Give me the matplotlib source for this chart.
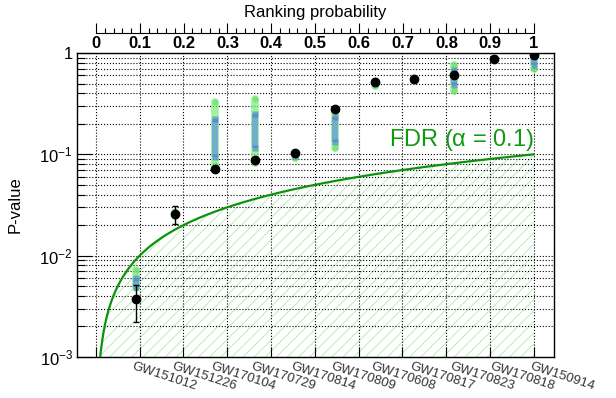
import numpy as np
import matplotlib
matplotlib.use("Agg")
import matplotlib.pyplot as plt
from matplotlib.ticker import NullFormatter, LogLocator

plt.rcParams['font.family'] = ['Liberation Sans', 'DejaVu Sans']
plt.rcParams['mathtext.fontset'] = 'custom'
plt.rcParams['mathtext.rm'] = 'Liberation Sans'
plt.rcParams['mathtext.it'] = 'Liberation Sans:italic'
plt.rcParams['mathtext.default'] = 'regular'
plt.rcParams['hatch.linewidth'] = 0.7

# events, ordered by ranking probability
events = ['GW151012', 'GW151226', 'GW170104', 'GW170729', 'GW170814', 'GW170809',
          'GW170608', 'GW170817', 'GW170823', 'GW170818', 'GW150914']
rank_prob = np.arange(1, 12) / 11.0

# observed p-values with (asymmetric) errors
pvals = [0.0037, 0.0259, 0.0716, 0.0879, 0.102, 0.282, 0.517, 0.554, 0.611, 0.879, 0.955]
p_lo = [0.00223, 0.0205, 0.0716, 0.0879, 0.102, 0.282, 0.517, 0.554, 0.611, 0.879, 0.955]
p_hi = [0.0051, 0.0307, 0.0716, 0.0879, 0.102, 0.282, 0.517, 0.554, 0.611, 0.879, 0.955]

# expected ranges (green = wide, blue = narrow)
green_lo = [0.0048, 0.0245, 0.0784, 0.0826, 0.092, 0.115, 0.475, 0.53, 0.425, 0.86, 0.69]
green_hi = [0.0072, 0.0272, 0.328, 0.351, 0.104, 0.263, 0.53, 0.57, 0.762, 0.90, 0.97]
blue_lo = [0.0049, 0.025, 0.0947, 0.115, 0.097, 0.133, 0.50, 0.54, 0.483, 0.87, 0.76]
blue_hi = [0.0060, 0.026, 0.223, 0.25, 0.103, 0.235, 0.52, 0.56, 0.68, 0.89, 0.92]

alpha_fdr = 0.1

fig = plt.figure(figsize=(6.16, 3.98), dpi=100)
ax = fig.add_axes([77/616, 1-357/398, 477/616, 304/398])

ax.set_yscale('log')
ax.set_xlim(-0.043, 1.046)
ax.set_ylim(1e-3, 1)

# FDR line and hatched region below it
fx = np.linspace(0.005, 1.0, 500)
fy = alpha_fdr * fx
ax.fill_between(fx, 1e-3, fy, hatch='///', facecolor='none',
                edgecolor='#b4f0b4', linewidth=0, zorder=1)
ax.plot(fx, fy, color='#0c920c', lw=1.6, zorder=3)
ax.text(1.0, 0.121, r'FDR ($\alpha$ = 0.1)', color='#119911', fontsize=17,
        ha='right', va='baseline', zorder=5)

# bands
for x, gl, gh, bl, bh in zip(rank_prob, green_lo, green_hi, blue_lo, blue_hi):
    ax.plot([x, x], [gl, gh], color='#77ee77', lw=5.5, alpha=0.7,
            solid_capstyle='round', zorder=4)
    ax.plot([x, x], [gl, gh], 'o', color='#55dd55', ms=4.5, alpha=0.5, mec='none', zorder=4)
    ax.plot([x, x], [bl, bh], color='#6fa9cc', lw=4.5, alpha=0.9,
            solid_capstyle='butt', zorder=4)
    ax.plot([x, x], [bl, bh], 's', color='#4a78d8', ms=4, alpha=0.6, mec='none', zorder=4)

# observed points
pv = np.array(pvals)
yerr = [pv - np.array(p_lo), np.array(p_hi) - pv]
ax.errorbar(rank_prob, pv, yerr=yerr, fmt='o', color='black', ms=6,
            elinewidth=1, capsize=2.5, capthick=1, zorder=6)

# grid and ticks
ax.set_xticks(np.arange(0, 1.01, 0.1))
ax.set_xticklabels([])
ax.set_yticks([1e-3, 1e-2, 1e-1, 1], ['$10^{-3}$', '$10^{-2}$', '$10^{-1}$', '1'])
ax.yaxis.set_minor_locator(LogLocator(base=10, subs=np.arange(2, 10)))
ax.yaxis.set_minor_formatter(NullFormatter())
ax.grid(True, which='major', ls=':', color='black', lw=0.8)
ax.yaxis.grid(True, which='minor', ls=':', color='black', lw=0.8)
ax.tick_params(axis='y', which='major', direction='in', length=11, width=0.8,
               labelsize=12, pad=3, right=False)
ax.tick_params(axis='y', which='minor', direction='in', length=6, width=0.8, right=False)
ax.tick_params(axis='x', which='major', direction='in', length=7, width=0.8, top=False)
for s in ax.spines.values():
    s.set_linewidth(1.0)

for x, name in zip(rank_prob, events):
    ax.text(x - 0.004, -0.012, name, transform=ax.get_xaxis_transform(),
            rotation=-18, rotation_mode='anchor', ha='left', va='top',
            fontsize=9.5, color='#333333')

# top axis (ranking probability)
tax = fig.add_axes([96/616, 1-33/398, 438/616, 0.0001])
tax.set_xlim(0, 1)
tax.set_ylim(0, 1)
for side in ['left', 'right', 'top']:
    tax.spines[side].set_visible(False)
tax.spines['bottom'].set_linewidth(0.8)
tax.set_yticks([])
tax.set_xticks(np.arange(0, 1.01, 0.1),
               ['0', '0.1', '0.2', '0.3', '0.4', '0.5', '0.6', '0.7', '0.8', '0.9', '1'],
               fontweight='bold')
tax.set_xticks(np.arange(0, 1.001, 0.02), minor=True)
tax.tick_params(axis='x', which='major', direction='in', length=7, width=0.8,
                labelsize=12, pad=2)
tax.tick_params(axis='x', which='minor', direction='in', length=3.6, width=0.8)
tax.patch.set_visible(False)

fig.text(315/616, 1-13/398, 'Ranking probability', ha='center', va='center', fontsize=12)
fig.text(15/616, 1-205/398, 'P-value', rotation=90, ha='center', va='center', fontsize=12)

fig.savefig('out.png', dpi=100)
